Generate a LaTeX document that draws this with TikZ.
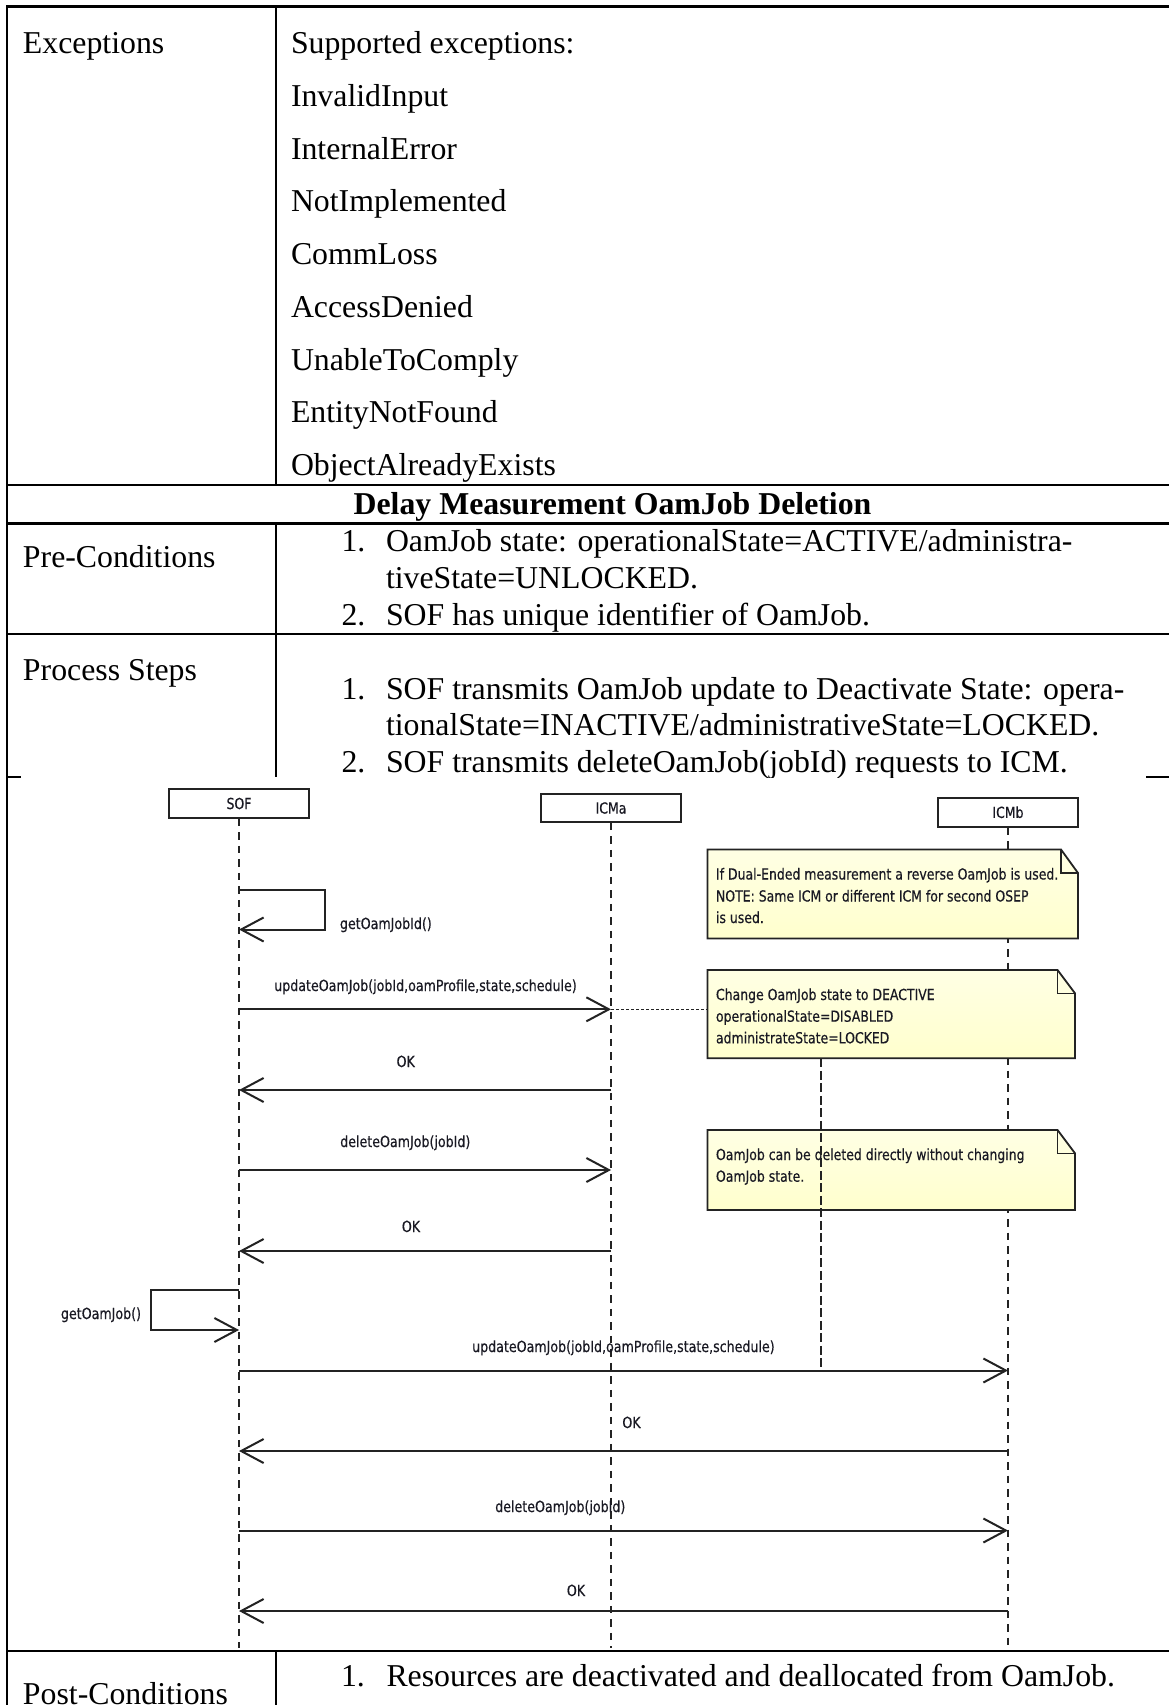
\documentclass[tikz,border=0pt]{standalone}
\usepackage{fontspec}
\setmainfont{Liberation Serif}
\newfontfamily\dgfont[FakeStretch=0.82,FakeBold=0.4]{DejaVu Sans}
\usetikzlibrary{arrows.meta}
\definecolor{lncol}{RGB}{35,35,35}
\definecolor{txcol}{RGB}{25,25,35}
\definecolor{noteA}{RGB}{255,255,228}
\definecolor{noteB}{RGB}{255,255,205}
\begin{document}
\begin{tikzpicture}[x=1pt,y=-1pt,
  tline/.style={line width=2.2pt,black},
  tt/.style={font=\fontsize{31.8}{36}\selectfont,anchor=base west,inner sep=0pt,outer sep=0pt},
  dglabel/.style={font=\dgfont\fontsize{15.4}{18}\selectfont,text=txcol,inner sep=0pt,outer sep=0pt,anchor=base},
  notetext/.style={font=\dgfont\fontsize{15.2}{18}\selectfont,text=txcol,inner sep=0pt,outer sep=0pt,anchor=base west},
  actor/.style={draw=lncol,line width=1.9pt,fill=white,minimum width=140pt,minimum height=29pt,inner sep=0pt,font=\dgfont\fontsize{15.2}{18}\selectfont,text=txcol},
  life/.style={draw=lncol,line width=1.4pt,dash pattern=on 7.5pt off 6pt},
  msg/.style={draw=lncol,line width=2pt},
  tip/.style={-{Straight Barb[length=22.5pt,width=24pt]}},
  notebox/.style={draw=lncol,line width=1.8pt,top color=noteA,bottom color=noteB},
  notefold/.style={draw=lncol,line width=1.6pt},
  dotline/.style={draw=lncol,line width=1.6pt,dash pattern=on 3pt off 2pt},
  anchline/.style={draw=lncol,line width=1.4pt,dash pattern=on 9pt off 3.5pt}
]
\clip (0,0) rectangle (1169,1705);
\fill[white] (0,0) rectangle (1169,1705);

% ---------- table text ----------
\node[tt] (exc) at (23,53.3) {Exceptions};
\node[tt] (ex0) at (291,53.3) {Supported exceptions:};
\node[tt] (ex1) at (291,106.5) {InvalidInput};
\node[tt] (ex2) at (291,159.2) {InternalError};
\node[tt] (ex3) at (291,211.9) {NotImplemented};
\node[tt] (ex4) at (291,264.6) {CommLoss};
\node[tt] (ex5) at (291,317.3) {AccessDenied};
\node[tt] (ex6) at (291,370) {UnableToComply};
\node[tt] (ex7) at (291,422.7) {EntityNotFound};
\node[tt] (ex8) at (291,475.4) {ObjectAlreadyExists};

\node[tt,anchor=base] (title) at (612.5,514.5) {\bfseries Delay Measurement OamJob Deletion};

\node[tt] (prel) at (23,567.3) {Pre-Conditions};
\node[tt] (pre1n) at (341.5,551.7) {1.};
\node[tt] (pre1) at (386,551.7) {OamJob state: operationalState=ACTIVE/administra-};
\node[tt] (pre1b) at (386,588.3) {tiveState=UNLOCKED.};
\node[tt] (pre2n) at (341.5,625) {2.};
\node[tt] (pre2) at (386,625) {SOF has unique identifier of OamJob.};

\node[tt] (procl) at (23,680) {Process Steps};
\node[tt] (pr1n) at (341.5,699) {1.};
\node[tt] (pr1) at (386,699) {SOF transmits OamJob update to Deactivate State: opera-};
\node[tt] (pr1b) at (386,735.5) {tionalState=INACTIVE/administrativeState=LOCKED.};
\node[tt] (pr2n) at (341.5,772) {2.};
\node[tt] (pr2) at (386,772) {SOF transmits deleteOamJob(jobId) requests to ICM.};

\node[tt] (postl) at (23,1704) {Post-Conditions};
\node[tt] (post1n) at (341,1686) {1.};
\node[tt] (post1) at (386.5,1686) {Resources are deactivated and deallocated from OamJob.};

% diagram image area
\fill[white] (21,778.2) rectangle (1146,1649.5);

% ---------- table lines ----------
\draw[tline] (7,6.5) -- (1180,6.5);
\draw[tline] (7,5.4) -- (7,1710);
\draw[tline] (7,485) -- (1180,485);
\draw[tline] (7,523.5) -- (1180,523.5);
\draw[tline] (7,634) -- (1180,634);
\draw[tline] (7,777) -- (21,777);
\draw[tline] (1146,777) -- (1180,777);
\draw[tline] (7,1651) -- (1180,1651);
\draw[tline] (276,6.5) -- (276,485);
\draw[tline] (276,523.5) -- (276,777);
\draw[tline] (276,1651) -- (276,1710);

% ---------- sequence diagram ----------
\node[actor] (sof) at (239,803.5) {SOF};
\node[actor,minimum height=28pt] (icma) at (611,808) {ICMa};
\node[actor] (icmb) at (1008,812.2) {ICMb};

\coordinate (sofE) at (239,1648);
\coordinate (icmaE) at (611,1648);
\coordinate (icmbE) at (1008,1648);
\draw[life] (sof.south) -- (sofE);
\draw[life] (icma.south) -- (icmaE);
\draw[life] (icmb.south) -- (icmbE);

\foreach \n/\y in {1/1009.3,2/1090,3/1170,4/1251,6/1370.5,7/1451,8/1530.5,9/1611} {
  \coordinate (s\n) at (239,\y);
  \coordinate (a\n) at (611,\y);
  \coordinate (b\n) at (1008,\y);
}
\coordinate (sc1) at (239,889.5);
\coordinate (sc1e) at (239,929.5);
\coordinate (sc2) at (239,1290);
\coordinate (sc2e) at (239,1330);

\draw[msg,tip] (sc1) -- ++(86,0) |- (sc1e);
\draw[msg,tip] (s1) -- (a1);
\draw[msg,tip] (a2) -- (s2);
\draw[msg,tip] (s3) -- (a3);
\draw[msg,tip] (a4) -- (s4);
\draw[msg,tip] (sc2) -- ++(-88.3,0) |- (sc2e);
\draw[msg,tip] (s6) -- (b6);
\draw[msg,tip] (b7) -- (s7);
\draw[msg,tip] (s8) -- (b8);
\draw[msg,tip] (b9) -- (s9);

\node[dglabel,anchor=base west] (l1) at (340,929) {getOamJobId()};
\node[dglabel] (l2) at (425.5,991) {updateOamJob(jobId,oamProfile,state,schedule)};
\node[dglabel] (l3) at (405.7,1067) {OK};
\node[dglabel] (l4) at (405.3,1147) {deleteOamJob(jobId)};
\node[dglabel] (l5) at (411,1232) {OK};
\node[dglabel,anchor=base west] (l6) at (61,1319) {getOamJob()};
\node[dglabel] (l7) at (623.4,1352) {updateOamJob(jobId,oamProfile,state,schedule)};
\node[dglabel] (l8) at (631.5,1428) {OK};
\node[dglabel] (l9) at (560.3,1512) {deleteOamJob(jobId)};
\node[dglabel] (l10) at (576,1596) {OK};

% notes
\filldraw[notebox] (707.5,849.5) -- (1061,849.5) -- (1078,873) -- (1078,938.5) -- (707.5,938.5) -- cycle;
\draw[notefold] (1061,849.5) |- (1078,873);
\filldraw[notebox] (707.5,970) -- (1057.5,970) -- (1075,993.3) -- (1075,1058.3) -- (707.5,1058.3) -- cycle;
\draw[notefold] (1057.5,970) |- (1075,993.3);
\filldraw[notebox] (707.5,1130) -- (1057.5,1130) -- (1075,1153.3) -- (1075,1210) -- (707.5,1210) -- cycle;
\draw[notefold] (1057.5,1130) |- (1075,1153.3);

\node[notetext] (n1a) at (716,879.5) {If Dual-Ended measurement a reverse OamJob is used.};
\node[notetext] (n1b) at (716,901.5) {NOTE: Same ICM or different ICM for second OSEP};
\node[notetext] (n1c) at (716,923) {is used.};
\node[notetext] (n2a) at (716,1000) {Change OamJob state to DEACTIVE};
\node[notetext] (n2b) at (716,1021.7) {operationalState=DISABLED};
\node[notetext] (n2c) at (716,1043.3) {administrateState=LOCKED};
\node[notetext] (n3a) at (716,1160) {OamJob can be deleted directly without changing};
\node[notetext] (n3b) at (716,1181.7) {OamJob state.};

\coordinate (n2L) at (707.5,1009.3);
\coordinate (n2B) at (820.8,1058.3);
\coordinate (anc) at (820.8,1370.5);
\draw[dotline] (a1) -- (n2L);
\draw[anchline] (n2B) -- (anc);
\end{tikzpicture}
\end{document}
